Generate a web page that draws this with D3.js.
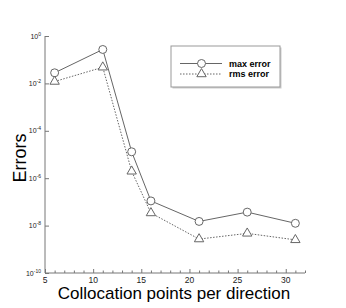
<!DOCTYPE html>
<html>
<head>
<meta charset="utf-8">
<script src="https://cdn.jsdelivr.net/npm/d3@7"></script>
<style>
  body { margin: 0; background: #fff; }
  text { font-family: "Liberation Sans", Arial, sans-serif; }
</style>
</head>
<body>
<div id="chart"></div>
<script>
// collocation points per direction
const points = [6, 11, 14, 16, 21, 26, 31];
// max error and rms error
const maxError = [2.8e-2, 2.7e-1, 1.3e-5, 1.1e-7, 1.5e-8, 3.7e-8, 1.25e-8];
const rmsError = [1.2e-2, 4.8e-2, 1.95e-6, 3.4e-8, 2.7e-9, 4.7e-9, 2.5e-9];
const seriesNames = ["max error", "rms error"];
const xTicks = [5, 10, 15, 20, 25, 30];
const yExps = [0, -2, -4, -6, -8, -10];

let width = 346, height = 308;
let margin = { top: 36, bottom: 35, right: 41, left: 45 };

let svg = d3.select('#chart')
  .append('svg')
  .attr('width', width)
  .attr('height', height);

let xScale = d3.scaleLinear()
  .domain([5, 32])
  .range([margin.left, width - margin.right]);

let yScale = d3.scaleLog()
  .domain([1e-10, 1])
  .range([height - margin.bottom, margin.top]);

const axisColor = '#777';

// x axis, ticks point inward
let xAxis = svg.append('g')
  .attr('transform', `translate(0,${height - margin.bottom})`)
  .call(d3.axisBottom(xScale).tickValues(d3.range(5, 33)).tickSize(-4).tickFormat(''));
xAxis.selectAll('.tick line')
  .attr('y2', d => d % 5 === 0 ? -4 : -2.5);
xAxis.selectAll('.xlab')
  .data(xTicks).enter().append('text')
  .attr('x', d => xScale(d))
  .attr('y', 9.5)
  .attr('text-anchor', 'middle')
  .attr('fill', '#222')
  .style('font-size', '8.5px')
  .text(d => d);
xAxis.selectAll('path, line').attr('stroke', axisColor);
xAxis.select('.domain').attr('d', `M${xScale(5)},0H${xScale(32)}`);

// y axis, log scale, labels as 10^n
let yAxis = svg.append('g')
  .attr('transform', `translate(${margin.left},0)`)
  .call(d3.axisLeft(yScale).tickValues(yExps.map(e => Math.pow(10, e))).tickSize(-4).tickFormat(''));
yAxis.selectAll('path, line').attr('stroke', axisColor);
yAxis.select('.domain').attr('d', `M0,${yScale(1e-10)}V${yScale(1)}`);

yExps.forEach(e => {
  let t = yAxis.append('text')
    .attr('x', -4)
    .attr('y', yScale(Math.pow(10, e)) + 2.5)
    .attr('text-anchor', 'end')
    .attr('fill', '#222')
    .style('font-size', '7px');
  t.append('tspan').text('10');
  t.append('tspan')
    .attr('dy', -3)
    .style('font-size', '5px')
    .text(e === 0 ? '0' : '-' + Math.abs(e));
});

// axis titles
svg.append('text')
  .text('Collocation points per direction')
  .attr('x', 174)
  .attr('y', 299)
  .attr('text-anchor', 'middle')
  .style('font-size', '17px');

svg.append('text')
  .text('Errors')
  .attr('transform', 'translate(26,158) rotate(-90)')
  .attr('text-anchor', 'middle')
  .style('font-size', '18px');

const lineColor = '#666';

let line = d3.line()
  .x((d, i) => xScale(points[i]))
  .y(d => yScale(d));

svg.append('path')
  .datum(maxError)
  .attr('d', line)
  .attr('fill', 'none')
  .attr('stroke', lineColor)
  .attr('stroke-width', 1);

svg.append('path')
  .datum(rmsError)
  .attr('d', line)
  .attr('fill', 'none')
  .attr('stroke', lineColor)
  .attr('stroke-width', 1)
  .attr('stroke-dasharray', '1.5,1.5');

const circleSym = d3.symbol().type(d3.symbolCircle).size(50);
const triSym = d3.symbol().type(d3.symbolTriangle).size(38);

svg.selectAll('.mx')
  .data(maxError)
  .enter().append('path')
  .attr('d', circleSym)
  .attr('transform', (d, i) => `translate(${xScale(points[i])},${yScale(d)})`)
  .attr('fill', '#fff')
  .attr('stroke', lineColor);

svg.selectAll('.rms')
  .data(rmsError)
  .enter().append('path')
  .attr('d', triSym)
  .attr('transform', (d, i) => `translate(${xScale(points[i])},${yScale(d)})`)
  .attr('fill', '#fff')
  .attr('stroke', lineColor);

// legend
const legend = svg.append('g').attr('transform', 'translate(171,46)');
legend.append('rect')
  .attr('x', 1.5).attr('y', 1.5)
  .attr('width', 109).attr('height', 41)
  .attr('fill', '#ccc');
legend.append('rect')
  .attr('x', 0).attr('y', 0)
  .attr('width', 109).attr('height', 41)
  .attr('fill', '#fff')
  .attr('stroke', '#999');

seriesNames.forEach((name, i) => {
  const y = 17.5 + i * 10.5;
  legend.append('line')
    .attr('x1', 9).attr('x2', 51)
    .attr('y1', y).attr('y2', y)
    .attr('stroke', lineColor)
    .attr('stroke-dasharray', i === 0 ? null : '1.5,1.5');
  legend.append('path')
    .attr('d', i === 0 ? circleSym : triSym)
    .attr('transform', `translate(30.5,${y})`)
    .attr('fill', '#fff')
    .attr('stroke', lineColor);
  legend.append('text')
    .attr('x', 58)
    .attr('y', y + 3)
    .style('font-size', '9px')
    .style('font-weight', 'bold')
    .text(name);
});
</script>
</body>
</html>
